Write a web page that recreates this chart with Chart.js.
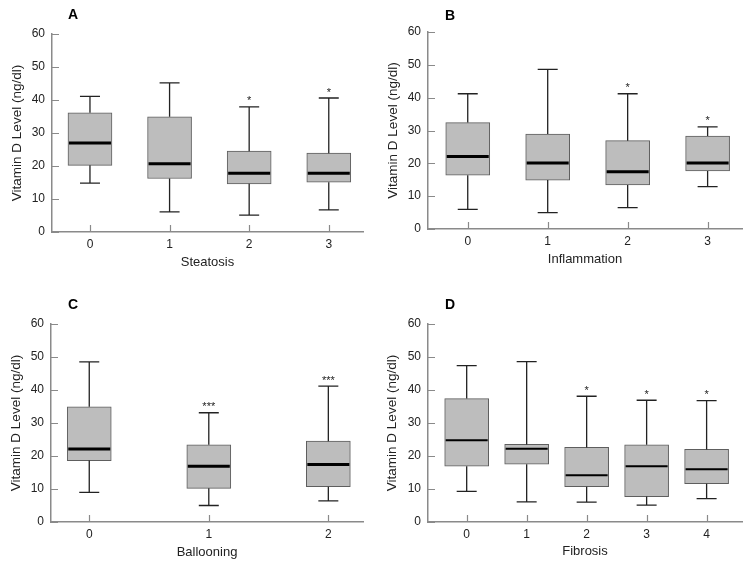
<!DOCTYPE html>
<html>
<head>
<meta charset="utf-8">
<title>Vitamin D level by histology</title>
<script src="https://cdn.jsdelivr.net/npm/chart.js@4.4.1/dist/chart.umd.min.js"></script>
<style>
  body { margin: 0; background: #fff; }
  #wrap { position: relative; width: 751px; height: 570px; }
  #wrap canvas { position: absolute; }
</style>
</head>
<body>
<div id="wrap">
  <canvas id="chartA" width="375" height="285" style="left:0;top:0"></canvas>
  <canvas id="chartB" width="376" height="285" style="left:375px;top:0"></canvas>
  <canvas id="chartC" width="375" height="285" style="left:0;top:285px"></canvas>
  <canvas id="chartD" width="376" height="285" style="left:375px;top:285px"></canvas>
</div>
<script>
// Y axis ticks (shared)
const yTicks = [0, 10, 20, 30, 40, 50, 60];

// A - Steatosis
const steatosisLabels = ['0', '1', '2', '3'];
const steatosisLow    = [14.8, 6.1, 5.1, 6.7];
const steatosisQ1     = [20.2, 16.2, 14.6, 15.1];
const steatosisMedian = [27.0, 20.7, 17.8, 17.8];
const steatosisQ3     = [36.1, 34.9, 24.5, 23.9];
const steatosisHigh   = [41.1, 45.2, 37.9, 40.6];
const steatosisStars  = ['', '', '*', '*'];

// B - Inflammation
const inflammationLabels = ['0', '1', '2', '3'];
const inflammationLow    = [6.0, 5.0, 6.5, 12.9];
const inflammationQ1     = [16.4, 14.9, 13.4, 17.7];
const inflammationMedian = [22.1, 20.1, 17.4, 20.1];
const inflammationQ3     = [32.4, 28.9, 26.9, 28.3];
const inflammationHigh   = [41.2, 48.6, 41.2, 31.1];
const inflammationStars  = ['', '', '*', '*'];

// C - Ballooning
const ballooningLabels = ['0', '1', '2'];
const ballooningLow    = [9.0, 5.0, 6.4];
const ballooningQ1     = [18.6, 10.2, 10.7];
const ballooningMedian = [22.1, 16.9, 17.4];
const ballooningQ3     = [34.9, 23.4, 24.5];
const ballooningHigh   = [48.5, 33.1, 41.2];
const ballooningStars  = ['', '***', '***'];

// D - Fibrosis
const fibrosisLabels = ['0', '1', '2', '3', '4'];
const fibrosisLow    = [9.3, 6.1, 6.0, 5.1, 7.1];
const fibrosisQ1     = [16.9, 17.5, 10.7, 7.7, 11.6];
const fibrosisMedian = [24.8, 22.2, 14.2, 16.9, 16.0];
const fibrosisQ3     = [37.4, 23.5, 22.6, 23.4, 22.0];
const fibrosisHigh   = [47.4, 48.6, 38.1, 36.9, 36.8];
const fibrosisStars  = ['', '', '*', '*', '*'];

Chart.defaults.font.family = "'Liberation Sans', Arial, Helvetica, sans-serif";
Chart.defaults.color = '#222';

const AXIS_GREY = '#8a8a8a';

// whiskers, medians, stars, inward tick marks and the panel letter
function boxExtras(p) {
  return {
    id: 'boxExtras',
    afterDatasetsDraw(chart) {
      const { ctx, scales: { x, y } } = chart;
      ctx.save();
      p.labels.forEach((lab, i) => {
        const cx = x.getPixelForValue(i);
        const half = 22;
        const yLow = y.getPixelForValue(p.low[i]);
        const yQ1 = y.getPixelForValue(p.q1[i]);
        const yQ3 = y.getPixelForValue(p.q3[i]);
        const yHigh = y.getPixelForValue(p.high[i]);
        const yMed = y.getPixelForValue(p.median[i]);

        ctx.strokeStyle = '#222';
        ctx.lineWidth = 1.3;
        ctx.beginPath();
        ctx.moveTo(cx, yQ3); ctx.lineTo(cx, yHigh);
        ctx.moveTo(cx - 10, yHigh); ctx.lineTo(cx + 10, yHigh);
        ctx.moveTo(cx, yQ1); ctx.lineTo(cx, yLow);
        ctx.moveTo(cx - 10, yLow); ctx.lineTo(cx + 10, yLow);
        ctx.stroke();

        ctx.strokeStyle = '#000';
        ctx.lineWidth = p.medianWidth;
        ctx.beginPath();
        ctx.moveTo(cx - half + 1, yMed); ctx.lineTo(cx + half - 1, yMed);
        ctx.stroke();

        if (p.stars[i]) {
          ctx.fillStyle = '#222';
          ctx.font = "11px 'Liberation Sans', Arial, sans-serif";
          ctx.textAlign = 'center';
          ctx.textBaseline = 'alphabetic';
          ctx.fillText(p.stars[i], cx, yHigh - 2.5);
        }
      });

      // tick marks point into the plot
      ctx.strokeStyle = AXIS_GREY;
      ctx.lineWidth = 1.2;
      ctx.beginPath();
      y.ticks.forEach(t => {
        const py = Math.round(y.getPixelForValue(t.value)) + 0.5;
        ctx.moveTo(x.left, py); ctx.lineTo(x.left + 7, py);
      });
      p.labels.forEach((lab, i) => {
        const px = Math.round(x.getPixelForValue(i)) + 0.5;
        ctx.moveTo(px, y.bottom); ctx.lineTo(px, y.bottom - 7);
      });
      ctx.stroke();

      ctx.fillStyle = '#000';
      ctx.font = "bold 14px 'Liberation Sans', Arial, sans-serif";
      ctx.textAlign = 'left';
      ctx.textBaseline = 'middle';
      ctx.fillText(p.letter, x.left + p.letterDx, p.letterY);
      ctx.restore();
    }
  };
}

function makePanel(id, p) {
  new Chart(document.getElementById(id), {
    type: 'bar',
    data: {
      datasets: [{
        data: p.labels.map((lab, i) => ({ x: i, y: [p.q1[i], p.q3[i]] })),
        backgroundColor: '#bdbdbd',
        borderColor: '#5e5e5e',
        borderWidth: 1,
        borderSkipped: false,
        barThickness: 44
      }]
    },
    options: {
      responsive: false,
      animation: false,
      layout: { padding: { left: 0, right: p.padRight, top: p.padTop, bottom: 0 } },
      scales: {
        x: {
          type: 'linear',
          offset: false,
          min: p.xMin,
          max: p.xMax,
          afterBuildTicks: s => { s.ticks = p.labels.map((lab, i) => ({ value: i })); },
          afterFit: s => { s.height = p.xHeight; },
          grid: { display: false, drawTicks: false, offset: false },
          border: { color: AXIS_GREY, width: 1.5 },
          ticks: {
            padding: 5,
            font: { size: 12 },
            callback: v => p.labels[v]
          },
          title: {
            display: true,
            text: p.xTitle,
            font: { size: 13 },
            padding: { top: 0, bottom: p.xTitlePad }
          }
        },
        y: {
          min: 0,
          max: 60,
          afterBuildTicks: s => { s.ticks = yTicks.map(v => ({ value: v })); },
          afterFit: s => { s.width = p.yWidth; },
          grid: { display: false, drawTicks: false },
          border: { color: AXIS_GREY, width: 1.5 },
          ticks: { padding: 7, font: { size: 12 } },
          title: {
            display: true,
            text: 'Vitamin D Level (ng/dl)',
            font: { size: 13.5 },
            padding: { top: p.yTitlePad, bottom: 0 }
          }
        }
      },
      plugins: {
        legend: { display: false },
        tooltip: { enabled: false }
      }
    },
    plugins: [boxExtras(p)]
  });
}

makePanel('chartA', {
  letter: 'A', xTitle: 'Steatosis',
  labels: steatosisLabels, low: steatosisLow, q1: steatosisQ1, median: steatosisMedian,
  q3: steatosisQ3, high: steatosisHigh, stars: steatosisStars,
  xMin: -0.477, xMax: 3.43, padTop: 34, padRight: 12, yWidth: 52, xHeight: 53,
  xTitlePad: 15, yTitlePad: 9, letterDx: 16, letterY: 15, medianWidth: 3
});

makePanel('chartB', {
  letter: 'B', xTitle: 'Inflammation',
  labels: inflammationLabels, low: inflammationLow, q1: inflammationQ1, median: inflammationMedian,
  q3: inflammationQ3, high: inflammationHigh, stars: inflammationStars,
  xMin: -0.497, xMax: 3.43, padTop: 32, padRight: 9, yWidth: 53, xHeight: 56,
  xTitlePad: 18, yTitlePad: 10.5, letterDx: 17, letterY: 16, medianWidth: 3
});

makePanel('chartC', {
  letter: 'C', xTitle: 'Ballooning',
  labels: ballooningLabels, low: ballooningLow, q1: ballooningQ1, median: ballooningMedian,
  q3: ballooningQ3, high: ballooningHigh, stars: ballooningStars,
  xMin: -0.32, xMax: 2.29, padTop: 39, padRight: 12, yWidth: 51, xHeight: 48,
  xTitlePad: 9.5, yTitlePad: 8, letterDx: 17, letterY: 20.5, medianWidth: 3
});

makePanel('chartD', {
  letter: 'D', xTitle: 'Fibrosis',
  labels: fibrosisLabels, low: fibrosisLow, q1: fibrosisQ1, median: fibrosisMedian,
  q3: fibrosisQ3, high: fibrosisHigh, stars: fibrosisStars,
  xMin: -0.645, xMax: 4.59, padTop: 39, padRight: 9, yWidth: 53, xHeight: 48,
  xTitlePad: 10.5, yTitlePad: 9, letterDx: 17, letterY: 20.5, medianWidth: 2
});
</script>
</body>
</html>
